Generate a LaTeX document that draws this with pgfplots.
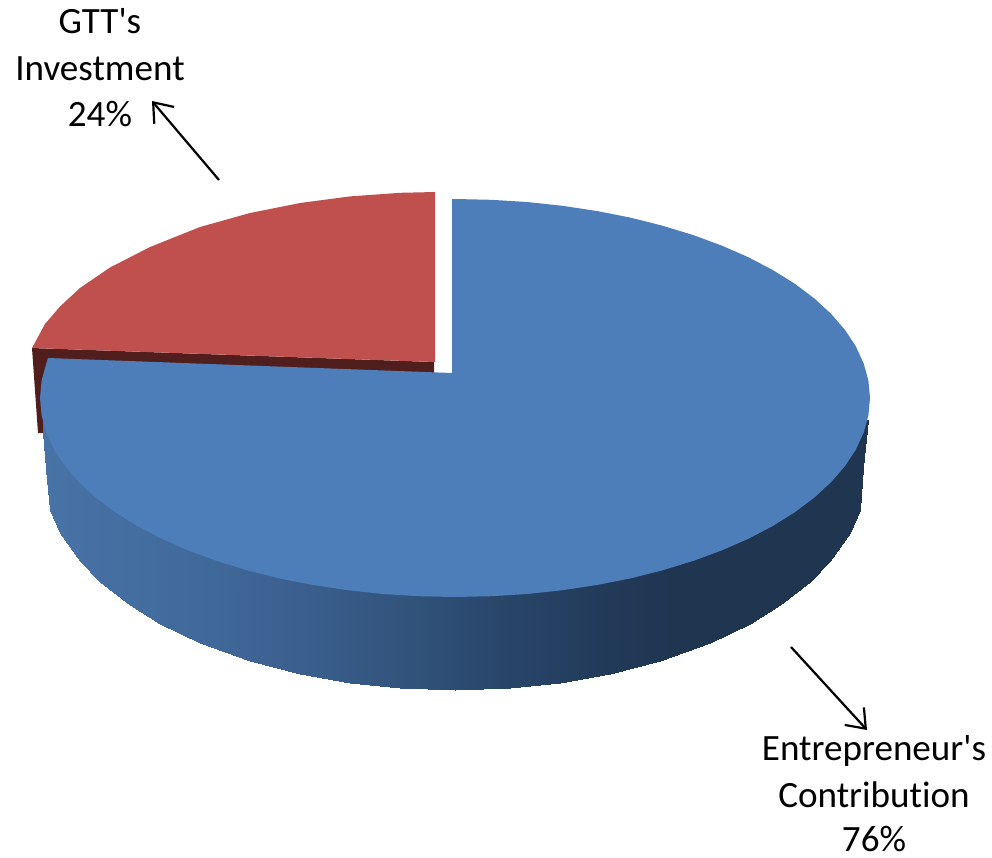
\documentclass[border=0pt]{standalone}
\usepackage{fontspec}
\setmainfont{Carlito}[Ligatures={TeXOff,NoCommon}]
\usepackage{pgfplots}
\pgfplotsset{compat=1.18}
\usetikzlibrary{arrows.meta}
\definecolor{bluetop}{RGB}{77,126,186}
\definecolor{redtop}{RGB}{192,80,77}
\definecolor{reddark}{RGB}{80,30,29}
\pgfplotstableread{
x y
43 420
47 420
50 420
60 420
80 420
100 420
130 420
160 420
200 420
250 420
300 420
350 420
400 420
455 420
510 420
560 420
610 420
660 420
710 420
750 420
780 420
810 420
830 420
850 420
860 420
863 420
868 420
43 433
47 480
50 510
60 532.5
80 561
100 582
130 605
160 624
200 643
250 661
300 674
350 683
400 688
455 690
510 688
560 683
610 674
660 661
710 643
750 624
780 605
810 582
830 561
850 532.5
860 510
863 467
868 420
}\sidetable
\newcommand{\lab}[3]{\node[anchor=base,inner sep=0pt,font=\fontsize{37.1}{46.5}\selectfont] at (axis cs:#1,#2) {#3};}
\begin{document}
\begin{tikzpicture}
\useasboundingbox (0,0) rectangle (992pt,857pt);
\begin{axis}[
  at={(0,0)}, anchor=south west,
  scale only axis, width=992pt, height=857pt,
  xmin=0, xmax=992, ymin=0, ymax=857, y dir=reverse,
  hide axis, clip=false,
  colormap={side}{rgb255(43pt)=(72,115,167) rgb255(200pt)=(65,105,155) rgb255(300pt)=(59,96,143) rgb255(400pt)=(50,84,125) rgb255(500pt)=(41,70,106) rgb255(600pt)=(34,59,90) rgb255(680pt)=(31,53,80) rgb255(868pt)=(31,53,80)},
  point meta min=43, point meta max=868,
]
% dark inner wall of the red slice
\addplot[fill=reddark, draw=none] coordinates {(32,348) (434,362) (434,373) (100,373) (48,400) (43,433) (38,433)};
% outer wall of the blue slice
\addplot[surf, shader=interp, mesh/rows=2, point meta=x] table[x=x,y=y] {\sidetable};
% blue top
\addplot[fill=bluetop, draw=none] coordinates {
(452,373) (452,199) (455,199) (491.2,199.8) (527,202) (562.4,205.8) (596.9,211) (630.4,217.6) (662.5,225.7) (693,235) (721.8,245.6) (748.5,257.3) (772.9,270.1) (795,283.9) (814.4,298.5) (831.1,313.9) (845,329.9) (855.9,346.5) (863.7,363.5) (868.4,380.6) (870,398)
(868.4,415.4) (863.7,432.5) (855.9,449.5) (845,466.1) (831.1,482.1) (814.4,497.5) (795,512.1) (772.9,525.9) (748.5,538.7) (721.8,550.4) (693,561) (662.5,570.3) (630.4,578.4) (596.9,585) (562.4,590.2) (527,594) (491.2,596.2) (455,597)
(418.8,596.2) (383,594) (347.6,590.2) (313.1,585) (279.6,578.4) (247.5,570.3) (217,561) (188.2,550.4) (161.5,538.7) (137.1,525.9) (115,512.1) (95.6,497.5) (78.9,482.1) (65,466.1) (54.1,449.5) (46.3,432.5) (41.6,415.4) (40,398)
(41.6,380.6) (46.3,363.5) (48,358)};
% red top
\addplot[fill=redtop, draw=none] coordinates {
(435,362) (435,192) (400,192.8) (350,196.4) (300,203) (250,213) (200,227) (150,247) (110,267.5) (80,288) (60,306.5) (45,324) (32,348)};
% arrows
\addplot[black, line width=2.2pt, -{Straight Barb[length=17pt,width=26pt,line width=2.2pt]}] coordinates {(219,180) (152,101)};
\addplot[black, line width=2.2pt, -{Straight Barb[length=17pt,width=26pt,line width=2.2pt]}] coordinates {(791,647) (867,730)};
% labels
\lab{100}{33}{GTT's}
\lab{100}{80}{Investment}
\lab{100}{126}{24\%}
\lab{874}{760}{Entrepreneur's}
\lab{874}{807}{Contribution}
\lab{874}{851}{76\%}
\end{axis}
\end{tikzpicture}
\end{document}
